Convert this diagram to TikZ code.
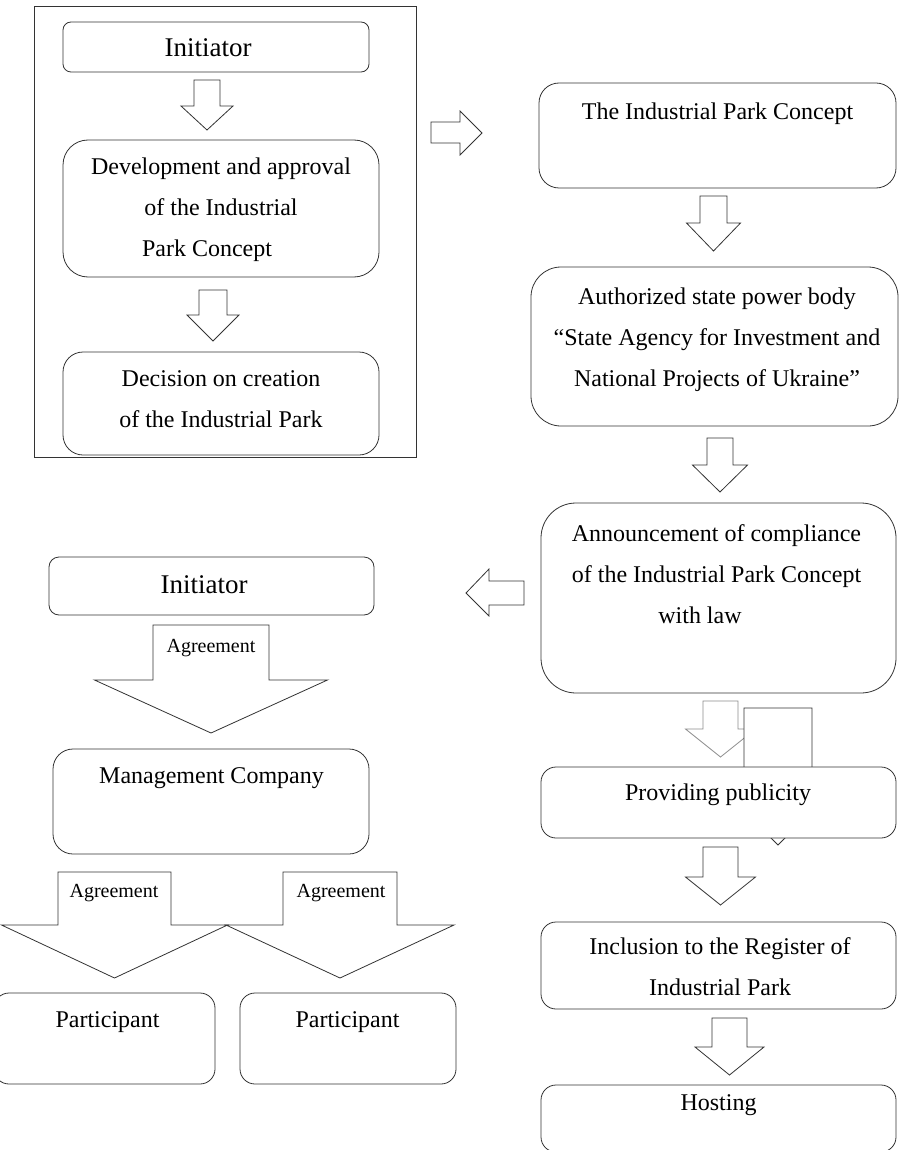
\documentclass[tikz,border=0pt]{standalone}
\usepackage{fontspec}
\setmainfont{Liberation Serif}
\usetikzlibrary{calc}

\tikzset{
  stage/.style={draw=black!80, line width=0.8pt, fill=white, inner sep=0pt},
  txt/.style={font=\fontsize{24}{41}\selectfont, align=center, inner sep=0pt, anchor=base},
  bigtxt/.style={txt, font=\fontsize{27}{32}\selectfont},
  smalltxt/.style={txt, font=\fontsize{20}{24}\selectfont},
  blockarrow/.style={draw=black!80, line width=0.8pt, fill=white, line join=miter}
}
% down block arrow: [style]{x}{top}{shaft half}{head half}{head start}{tip}
\newcommand{\downblock}[7][blockarrow]{%
  \draw[#1] (#2-#4,#3) -- (#2+#4,#3) -- (#2+#4,#6) -- (#2+#5,#6)
    -- (#2,#7) -- (#2-#5,#6) -- (#2-#4,#6) -- cycle;}

\begin{document}
\begin{tikzpicture}[x=1pt,y=-1pt]
\useasboundingbox (0,0) rectangle (900,1150);

% creation of the park
\draw[draw=black!80, line width=0.8pt] (34,6) rectangle (416,457);
\node[stage, rounded corners=8pt, minimum width=306pt, minimum height=50pt] (init) at (216,47) {};
\node[bigtxt] (initTxt) at (208,57) {Initiator};
\downblock{207}{80}{13}{26}{106}{130}
\node[stage, rounded corners=25pt, minimum width=316pt, minimum height=137pt] (devel) at (221,208.5) {};
\node[txt] (develTxt) at (221,257) {Development and approval\\of the Industrial\hspace*{28pt}\\Park Concept\hspace*{28pt}};
\downblock{213}{290}{14}{26}{315}{341}
\node[stage, rounded corners=20pt, minimum width=316pt, minimum height=103pt] (decision) at (221,403.5) {};
\node[txt] (decisionTxt) at (221,427) {Decision on creation\\of the Industrial Park};

\draw[blockarrow] (431,122) -- (460,122) -- (460,111) -- (482,133)
  -- (460,155) -- (460,143) -- (431,143) -- cycle;

% state registration
\node[stage, rounded corners=20pt, minimum width=357pt, minimum height=105pt] (concept) at (717.5,135.5) {};
\node[txt] (conceptTxt) at (717.5,120) {The Industrial Park Concept};
\downblock{713.5}{196}{13.5}{27}{223}{251}
\node[stage, rounded corners=30pt, minimum width=367pt, minimum height=159pt] (agency) at (714.5,346.5) {};
\node[txt] (agencyTxt) at (717,386) {Authorized state power body\\“State Agency for Investment and\\National Projects of Ukraine”};
\downblock{720}{438}{13}{27.5}{465}{492}
\node[stage, rounded corners=35pt, minimum width=355pt, minimum height=190pt] (announce) at (718.5,598) {};
\node[txt] (announceTxt) at (716.5,623) {Announcement of compliance\\of the Industrial Park Concept\\with law\hspace*{33pt}};

\downblock[blockarrow, draw=black!45]{720.5}{701}{17.5}{35}{729}{757}
\downblock{778}{708}{34}{60}{785}{845}
\node[stage, rounded corners=15pt, minimum width=355pt, minimum height=71pt] (publicity) at (718.5,802.5) {};
\node[txt] (publicityTxt) at (718,800) {Providing publicity};
\downblock{720.5}{847}{17.5}{35}{877}{905}
\node[stage, rounded corners=15pt, minimum width=355pt, minimum height=87pt] (register) at (718.5,965.5) {};
\node[txt] (registerTxt) at (720,995) {Inclusion to the Register of\\Industrial Park};
\downblock{729.5}{1018}{17.5}{34.5}{1047}{1075}
\node[stage, rounded corners=15pt, minimum width=355pt, minimum height=67pt] (hosting) at (718.5,1118.5) {};
\node[txt] (hostingTxt) at (718.5,1110) {Hosting};

\draw[blockarrow] (524,581) -- (489,581) -- (489,569) -- (466,593)
  -- (489,616) -- (489,605) -- (524,605) -- cycle;

% functioning of the park
\node[stage, rounded corners=10pt, minimum width=325pt, minimum height=58pt] (initB) at (211.5,586) {};
\node[bigtxt] (initBTxt) at (204,593) {Initiator};
\downblock{211}{625}{58}{116.5}{680}{733}
\node[smalltxt] (agreeA) at (211,652) {Agreement};
\node[stage, rounded corners=20pt, minimum width=316pt, minimum height=105pt] (mgmt) at (211,801.5) {};
\node[txt] (mgmtTxt) at (211.5,783) {Management Company};
\downblock{114.5}{872}{56.5}{113}{925}{978}
\downblock{340}{872}{57}{114}{925}{978}
\node[smalltxt] (agreeB) at (114,897) {Agreement};
\node[smalltxt] (agreeC) at (341,897) {Agreement};
\node[stage, rounded corners=15pt, minimum width=221pt, minimum height=91pt] (partA) at (104.5,1038.5) {};
\node[txt] (partATxt) at (107.5,1027) {Participant};
\node[stage, rounded corners=15pt, minimum width=216pt, minimum height=91pt] (partB) at (348,1038.5) {};
\node[txt] (partBTxt) at (347.5,1027) {Participant};

\end{tikzpicture}
\end{document}
